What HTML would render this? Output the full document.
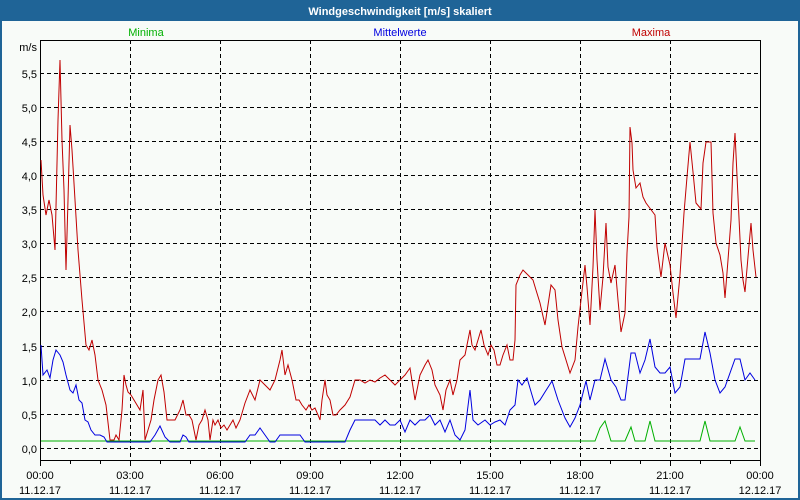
<!DOCTYPE html>
<html><head><meta charset="utf-8"><style>
body{margin:0;width:800px;height:500px;overflow:hidden;background:#f8fbf8;}
svg{display:block;font-family:"Liberation Sans",sans-serif;}
</style></head><body>
<svg width="800" height="500" viewBox="0 0 800 500" xmlns="http://www.w3.org/2000/svg">
<rect x="0" y="0" width="800" height="500" fill="#f8fbf8"/>
<rect x="0" y="0" width="800" height="21" fill="#1f6497"/>
<rect x="0" y="0" width="2" height="500" fill="#1f6497"/>
<rect x="798" y="0" width="2" height="500" fill="#1f6497"/>
<rect x="0" y="498" width="800" height="2" fill="#1f6497"/>
<text x="400" y="15" fill="#fff" font-size="11" font-weight="bold" text-anchor="middle">Windgeschwindigkeit [m/s] skaliert</text>
<text x="146" y="36" fill="#00b000" font-size="11" text-anchor="middle">Minima</text>
<text x="400" y="36" fill="#0000e0" font-size="11" text-anchor="middle">Mittelwerte</text>
<text x="651" y="36" fill="#c00000" font-size="11" text-anchor="middle">Maxima</text>
<g stroke="#000" stroke-width="1" stroke-dasharray="4,3" fill="none">
<path d="M40 73.5H760M40 107.5H760M40 141.5H760M40 175.5H760M40 209.5H760M40 243.5H760M40 277.5H760M40 311.5H760M40 346.5H760M40 380.5H760M40 414.5H760M40 448.5H760"/>
<path d="M130.5 40V460M220.5 40V460M310.5 40V460M400.5 40V460M490.5 40V460M580.5 40V460M670.5 40V460"/>
</g>
<g stroke="#000" stroke-width="1" fill="none">
<path d="M40.5 40V466M40 40.5H760.5M760.5 40V461M40 460.5H760"/>
<path d="M70.5 460v4M100.5 460v4M130.5 460v6M160.5 460v4M190.5 460v4M220.5 460v6M250.5 460v4M280.5 460v4M310.5 460v6M340.5 460v4M370.5 460v4M400.5 460v6M430.5 460v4M460.5 460v4M490.5 460v6M520.5 460v4M550.5 460v4M580.5 460v6M610.5 460v4M640.5 460v4M670.5 460v6M700.5 460v4M730.5 460v4M760.5 460v6"/>
</g>
<g font-size="11" fill="#000" text-anchor="end">
<text x="37" y="51">m/s</text>
<text x="37" y="78">5,5</text><text x="37" y="112">5,0</text><text x="37" y="146">4,5</text><text x="37" y="180">4,0</text><text x="37" y="214">3,5</text><text x="37" y="248">3,0</text><text x="37" y="282">2,5</text><text x="37" y="316">2,0</text><text x="37" y="351">1,5</text><text x="37" y="385">1,0</text><text x="37" y="419">0,5</text><text x="37" y="453">0,0</text>
</g>
<g font-size="11" fill="#000" text-anchor="middle">
<text x="40" y="479">00:00</text><text x="130" y="479">03:00</text><text x="220" y="479">06:00</text><text x="310" y="479">09:00</text><text x="400" y="479">12:00</text><text x="490" y="479">15:00</text><text x="580" y="479">18:00</text><text x="670" y="479">21:00</text><text x="760" y="479">00:00</text>
<text x="40" y="494">11.12.17</text><text x="130" y="494">11.12.17</text><text x="220" y="494">11.12.17</text><text x="310" y="494">11.12.17</text><text x="400" y="494">11.12.17</text><text x="490" y="494">11.12.17</text><text x="580" y="494">11.12.17</text><text x="670" y="494">11.12.17</text><text x="760" y="494">12.12.17</text>
</g>
<polyline fill="none" stroke="#00b000" stroke-width="1" points="41,441 595,441 600,428 605,421 611,441 625,441 631,427 635,441 645,441 650,421 655,441 700,441 705,421 710,441 735,441 740,427 745,441 755,441"/>
<polyline fill="none" stroke="#0000e0" stroke-width="1" points="41,345 43,375 47,370 50,378 53,360 56,350 60,355 63,362 66,375 70,390 73,393 76,385 79,400 82,403 85,420 88,422 91,430 95,435 100,435 104,437 107,442 110,442 150,442 155,435 160,426 165,437 170,442 180,442 183,435 186,437 189,442 245,442 250,435 255,435 260,428 265,435 270,442 275,442 280,435 300,435 305,442 345,442 350,430 355,420 375,420 380,425 385,420 390,425 395,425 400,420 405,432 410,420 415,425 420,420 425,420 430,415 435,425 440,420 445,432 450,420 455,435 460,440 465,430 470,390 473,420 478,425 485,420 490,425 495,422 500,420 505,425 510,410 515,405 518,380 522,385 527,378 532,395 535,405 540,400 545,392 552,381 558,400 565,418 570,427 575,418 580,405 586,381 590,400 595,380 600,380 605,359 611,380 616,387 621,400 625,400 631,353 635,353 640,373 645,360 650,339 655,367 660,373 665,373 670,367 675,393 680,387 685,359 700,359 705,332 710,353 715,380 720,393 725,387 735,359 740,359 745,380 750,373 755,380"/>
<polyline fill="none" stroke="#c00000" stroke-width="1" points="41,160 43,195 46,215 49,200 52,215 55,250 58,120 60,60 62,140 64,190 66,270 68,200 70,125 72,150 75,200 78,250 82,300 86,345 89,350 92,340 95,355 98,380 102,390 106,405 110,440 114,440 116,435 119,440 122,410 124,375 126,385 128,392 131,395 134,400 137,405 140,410 143,390 145,440 148,430 151,420 154,400 158,380 161,375 164,392 167,420 170,420 175,420 180,410 183,400 186,415 189,415 192,420 196,440 199,425 202,420 205,410 208,420 210,440 213,420 215,425 218,420 221,428 224,425 227,430 230,425 233,420 236,428 240,420 245,403 250,390 255,400 260,380 265,385 270,390 275,380 280,360 282,350 285,375 288,365 292,380 296,400 299,400 302,405 306,410 309,405 312,410 315,408 318,415 320,420 322,400 325,380 327,395 330,400 333,415 336,415 340,410 345,405 350,397 355,380 360,380 365,383 370,380 375,382 380,378 385,375 390,380 395,385 400,380 405,375 410,368 415,400 418,385 420,375 425,365 428,360 432,370 435,385 440,395 443,410 446,390 450,380 453,395 457,380 460,360 465,355 470,330 472,345 475,350 478,340 481,330 484,345 488,355 491,345 494,350 497,365 500,365 503,355 507,345 510,360 513,360 515,340 516,285 520,275 523,270 528,275 533,280 536,290 540,303 545,325 551,285 555,290 558,320 562,347 570,373 575,360 578,327 581,300 585,265 587,287 590,325 593,267 595,210 597,260 600,310 603,277 606,223 608,267 611,283 615,265 618,300 621,332 625,313 627,253 629,217 630,127 632,143 633,170 636,188 640,183 643,197 646,203 655,215 657,247 661,277 665,243 670,265 673,293 676,318 680,275 684,213 687,177 690,142 693,172 696,203 701,209 703,163 706,142 711,142 713,213 716,243 720,255 723,273 725,298 728,260 731,220 733,163 735,133 738,197 741,260 743,280 745,292 748,257 751,223 753,250 756,277"/>
</svg>
</body></html>
